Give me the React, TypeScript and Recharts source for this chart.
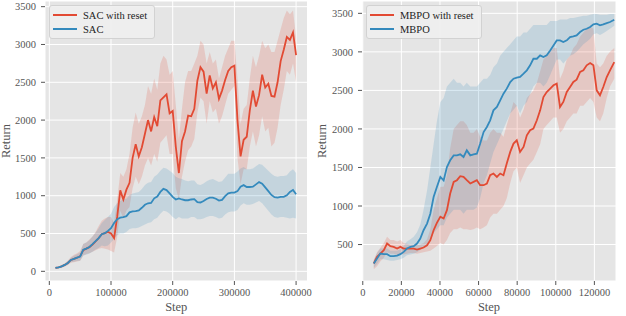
import { ComposedChart, Line, Area, XAxis, YAxis, CartesianGrid, Legend } from 'recharts'

const FONT = "'Liberation Serif', 'Times New Roman', serif"
const RED = '#E24A33'
const BLUE = '#348ABD'
const TICK_COLOR = '#555555'

// ---- left panel: SAC ----
const sacSteps = [
  10000, 15000, 20000, 25000, 30000, 35000, 40000, 45000, 50000, 55000,
  60000, 65000, 70000, 75000, 80000, 85000, 90000, 95000, 100000, 105000,
  110000, 115000, 120000, 125000, 130000, 135000, 140000, 145000, 150000, 155000,
  160000, 165000, 170000, 175000, 180000, 185000, 190000, 195000, 200000, 205000,
  210000, 215000, 220000, 225000, 230000, 235000, 240000, 245000, 250000, 255000,
  260000, 265000, 270000, 275000, 280000, 285000, 290000, 295000, 300000, 305000,
  310000, 315000, 320000, 325000, 330000, 335000, 340000, 345000, 350000, 355000,
  360000, 365000, 370000, 375000, 380000, 385000, 390000, 395000, 400000,
]
const sacResetMean = [
  45, 52, 65, 85, 110, 150, 165, 180, 200, 280,
  300, 320, 355, 395, 440, 490, 505, 520, 500, 440,
  720, 1070, 950, 1080, 1170, 1500, 1680, 1520, 1640, 1820,
  2000, 1850, 2040, 1920, 2260, 2300, 2340, 2090, 2120, 1650,
  1300, 1720, 1850, 2060, 2050, 2150, 2520, 2700, 2640, 2350,
  2590, 2420, 2500, 2280, 2390, 2530, 2650, 2700, 2720, 2000,
  1520, 1740, 1780, 2130, 2390, 2180, 2330, 2600, 2430, 2480,
  2320, 2310, 2500, 2780, 2930, 3100, 3060, 3160, 2860,
]
const sacResetLo = [
  35, 42, 50, 65, 85, 115, 120, 130, 140, 210,
  230, 240, 260, 280, 300, 310, 300, 290, 270, 250,
  450, 800, 700, 800, 850, 1100, 1250, 1150, 1250, 1400,
  1500, 1400, 1550, 1450, 1700, 1750, 1800, 1550, 1550, 1100,
  950, 1250, 1450, 1600, 1650, 1750, 2100, 2300, 2250, 1950,
  2250, 2100, 2150, 1950, 2050, 2200, 2350, 2400, 2450, 1500,
  1150, 1350, 1350, 1650, 1850, 1650, 1800, 2050, 1850, 1900,
  1650, 1700, 1900, 2200, 2400, 2650, 2600, 2750, 2500,
]
const sacResetHi = [
  55, 62, 80, 105, 140, 190, 220, 240, 270, 360,
  380, 420, 460, 520, 600, 670, 700, 720, 720, 640,
  950, 1300, 1250, 1350, 1550, 1900, 2100, 1950, 2050, 2200,
  2450, 2350, 2550, 2400, 2750, 2850, 2800, 2600, 2650, 2200,
  1750, 2150, 2500, 2650, 2650, 2750, 2850, 3050, 3000, 2750,
  2900, 2750, 2800, 2550, 2700, 2850, 2950, 3050, 3050, 2550,
  1950, 2150, 2200, 2550, 2850, 2700, 2850, 3050, 2950, 3000,
  2900, 2900, 3050, 3200, 3350, 3450, 3400, 3450, 3100,
]
const sacMean = [
  45, 52, 65, 85, 110, 150, 165, 180, 195, 285,
  300, 322, 360, 400, 440, 490, 505, 535, 570, 640,
  690, 710, 718, 730, 780, 792, 795, 805, 840, 880,
  900, 905, 965, 990, 1050, 1090, 1075, 1030, 985, 950,
  965, 950, 940, 940, 950, 955, 915, 910, 930, 957,
  975, 975, 960, 935, 945, 995, 1030, 1040, 1040, 1060,
  1120, 1140, 1115, 1115, 1120, 1150, 1180, 1160, 1110, 1060,
  1010, 980, 975, 985, 985, 1005, 1050, 1075, 1020,
]
const sacLo = [
  35, 42, 52, 68, 88, 120, 125, 135, 140, 210,
  220, 235, 260, 290, 310, 340, 330, 340, 380, 430,
  480, 500, 500, 520, 560, 570, 570, 580, 600, 620,
  640, 650, 690, 710, 760, 800, 790, 760, 720, 690,
  720, 700, 700, 700, 720, 720, 690, 690, 700, 720,
  730, 730, 720, 700, 710, 750, 780, 790, 790, 810,
  870, 900, 880, 880, 890, 910, 930, 900, 850, 800,
  750, 720, 710, 720, 720, 710, 700, 710, 700,
]
const sacHi = [
  55, 62, 80, 102, 132, 180, 205, 225, 250, 360,
  380, 410, 460, 510, 570, 640, 680, 720, 760, 850,
  900, 930, 950, 960, 1010, 1030, 1040, 1050, 1090, 1140,
  1170, 1180, 1250, 1280, 1330, 1370, 1360, 1330, 1300, 1250,
  1230, 1220, 1200, 1190, 1200, 1200, 1150, 1140, 1160, 1190,
  1210, 1220, 1200, 1180, 1190, 1240, 1290, 1290, 1290, 1320,
  1360, 1380, 1350, 1350, 1360, 1390, 1420, 1410, 1370, 1330,
  1290, 1260, 1250, 1260, 1260, 1270, 1320, 1350, 1300,
]
const sacNames = ['SAC with reset', 'SAC']
const sacXTicks = [0, 100000, 200000, 300000, 400000]
const sacYTicks = [0, 500, 1000, 1500, 2000, 2500, 3000, 3500]

// ---- right panel: MBPO ----
const mbpoSteps = [
  5700, 7400, 9100, 10900, 12600, 14300, 16000, 17800, 19500, 21200,
  22900, 24700, 26400, 28100, 29800, 31500, 33300, 35000, 36700, 38400,
  40200, 41900, 43600, 45300, 47100, 48800, 50500, 52200, 53900, 55700,
  57400, 59100, 60800, 62600, 64300, 66000, 67700, 69500, 71200, 72900,
  74600, 76400, 78100, 79800, 81500, 83300, 85000, 86700, 88400, 90200,
  91900, 93600, 95300, 97100, 98800, 100500, 102200, 103900, 105700, 107400,
  109100, 110800, 112600, 114300, 116000, 117800, 119500, 121200, 122900, 124600,
  126400, 128100, 130300,
]
const mbpoResetMean = [
  254, 340, 383, 426, 513, 478, 470, 448, 470, 448,
  448, 448, 448, 435, 448, 461, 491, 556, 686, 781,
  860, 838, 946, 1162, 1313, 1335, 1387, 1378, 1335, 1292,
  1313, 1335, 1270, 1270, 1292, 1400, 1422, 1378, 1422, 1400,
  1551, 1702, 1810, 1853, 1702, 1767, 1918, 1983, 2004, 2112,
  2241, 2414, 2479, 2523, 2566, 2587, 2285, 2350, 2479, 2544,
  2609, 2639, 2739, 2760, 2825, 2855, 2825, 2501, 2436, 2544,
  2674, 2760, 2868,
]
const mbpoResetLo = [
  180, 220, 280, 330, 400, 380, 380, 360, 380, 370,
  380, 390, 390, 380, 390, 400, 410, 420, 450, 480,
  520, 500, 560, 650, 700, 700, 720, 700, 700, 690,
  700, 720, 700, 720, 750, 850, 900, 900, 950, 1000,
  1100, 1300, 1450, 1500, 1300, 1400, 1500, 1550, 1600, 1700,
  1800, 2000, 2050, 2100, 2150, 2150, 1950, 2000, 2100, 2150,
  2200, 2200, 2300, 2300, 2350, 2400, 2350, 2150, 2100, 2200,
  2400, 2550, 2650,
]
const mbpoResetHi = [
  300, 400, 460, 520, 600, 560, 560, 540, 560, 520,
  510, 500, 500, 490, 500, 520, 570, 700, 950, 1100,
  1250, 1250, 1400, 1750, 2000, 2050, 2100, 2100, 2050, 1950,
  1950, 2000, 1900, 1850, 1850, 1950, 2000, 1950, 1950, 1900,
  2050, 2200, 2350, 2300, 2150, 2250, 2400, 2450, 2500, 2600,
  2750, 2900, 2950, 3000, 3050, 3050, 2650, 2750, 2900, 2950,
  3050, 3100, 3200, 3250, 3300, 3330, 3300, 2850, 2800, 2850,
  2950, 3000, 3050,
]
const mbpoMean = [
  254, 318, 383, 375, 375, 349, 349, 357, 375, 405,
  448, 470, 478, 513, 578, 686, 772, 900, 1117, 1247,
  1377, 1333, 1506, 1593, 1657, 1657, 1670, 1636, 1722, 1657,
  1670, 1679, 1809, 1960, 2025, 2112, 2241, 2285, 2371, 2458,
  2523, 2609, 2652, 2665, 2674, 2717, 2760, 2825, 2911, 2911,
  2955, 2933, 2955, 3019, 3084, 3149, 3149, 3127, 3149, 3192,
  3201, 3214, 3257, 3287, 3300, 3322, 3357, 3365, 3344, 3357,
  3374, 3387, 3417,
]
const mbpoLo = [
  200, 250, 310, 310, 300, 290, 290, 300, 310, 330,
  360, 370, 380, 400, 430, 470, 500, 560, 650, 700,
  750, 750, 850, 900, 950, 950, 950, 900, 950, 950,
  950, 980, 1100, 1300, 1400, 1550, 1700, 1800, 1900, 2000,
  2100, 2200, 2250, 2300, 2200, 2300, 2350, 2450, 2550, 2600,
  2600, 2550, 2600, 2700, 2800, 2900, 2900, 2850, 2900, 2950,
  2970, 3000, 3050, 3100, 3130, 3170, 3230, 3240, 3220, 3240,
  3270, 3300, 3340,
]
const mbpoHi = [
  300, 390, 450, 450, 450, 420, 420, 420, 440, 480,
  540, 570, 600, 660, 760, 950, 1200, 1500, 1800, 2100,
  2350, 2400, 2550, 2600, 2650, 2600, 2600, 2550, 2600, 2550,
  2550, 2550, 2600, 2650, 2650, 2700, 2800, 2850, 2950, 3000,
  3050, 3100, 3150, 3200, 3200, 3250, 3250, 3300, 3350, 3350,
  3350, 3350, 3350, 3400, 3400, 3400, 3420, 3420, 3420, 3440,
  3440, 3450, 3460, 3470, 3470, 3480, 3490, 3490, 3480, 3480,
  3480, 3490, 3490,
]
const mbpoNames = ['MBPO with reset', 'MBPO']
const mbpoXTicks = [0, 20000, 40000, 60000, 80000, 100000, 120000]
const mbpoYTicks = [500, 1000, 1500, 2000, 2500, 3000, 3500]

type Row = {
  step: number
  reset: number
  resetBand: [number, number]
  base: number
  baseBand: [number, number]
}

function buildRows(
  steps: number[],
  reset: number[],
  resetLo: number[],
  resetHi: number[],
  base: number[],
  baseLo: number[],
  baseHi: number[],
): Row[] {
  return steps.map((step, i) => ({
    step,
    reset: reset[i],
    resetBand: [resetLo[i], resetHi[i]],
    base: base[i],
    baseBand: [baseLo[i], baseHi[i]],
  }))
}

function LegendBox({ names }: { names: string[] }) {
  const colors = [RED, BLUE]
  return (
    <div
      style={{
        background: 'rgba(238,238,238,0.9)',
        border: '1px solid #d2d2d2',
        borderRadius: 3,
        padding: '2px 7px 2px 3px',
        fontFamily: FONT,
        fontSize: 10.5,
        color: '#222',
        whiteSpace: 'nowrap',
      }}
    >
      {names.map((name, i) => (
        <div key={name} style={{ display: 'flex', alignItems: 'center', height: 14 }}>
          <span style={{ display: 'inline-block', width: 24, height: 2, background: colors[i], marginRight: 6 }} />
          {name}
        </div>
      ))}
    </div>
  )
}

interface PanelProps {
  rows: Row[]
  names: string[]
  xDomain: [number, number]
  yDomain: [number, number]
  xTicks: number[]
  yTicks: number[]
  yAxisWidth: number
  marginRight: number
  legendLeft: number
  returnOffset: number
}

function Panel({ rows, names, xDomain, yDomain, xTicks, yTicks, yAxisWidth, marginRight, legendLeft, returnOffset }: PanelProps) {
  const tick = { fill: TICK_COLOR, fontSize: 10.5, fontFamily: FONT }
  const titleStyle = { fill: TICK_COLOR, fontSize: 12.5, fontFamily: FONT }
  return (
    <ComposedChart width={313} height={316} data={rows} margin={{ top: 1, right: marginRight, left: 0, bottom: 0 }}>
      <CartesianGrid fill="#E5E5E5" fillOpacity={1} stroke="#ffffff" strokeWidth={1} />
      <XAxis
        type="number"
        dataKey="step"
        domain={xDomain}
        ticks={xTicks}
        allowDataOverflow
        height={35}
        axisLine={false}
        tickLine={{ stroke: TICK_COLOR }}
        tickSize={4}
        tickMargin={4}
        tick={tick}
        interval={0}
        label={{ value: 'Step', position: 'insideBottom', offset: 5, style: titleStyle }}
      />
      <YAxis
        type="number"
        domain={yDomain}
        ticks={yTicks}
        allowDataOverflow
        width={yAxisWidth}
        axisLine={false}
        tickLine={{ stroke: TICK_COLOR }}
        tickSize={4}
        tickMargin={5}
        tick={tick}
        interval={0}
        label={{
          value: 'Return',
          angle: -90,
          position: 'insideLeft',
          offset: returnOffset,
          style: { ...titleStyle, textAnchor: 'middle' },
        }}
      />
      <Area type="linear" dataKey="resetBand" stroke="none" fill={RED} fillOpacity={0.18} isAnimationActive={false} activeDot={false} />
      <Area type="linear" dataKey="baseBand" stroke="none" fill={BLUE} fillOpacity={0.18} isAnimationActive={false} activeDot={false} />
      <Line type="linear" dataKey="reset" stroke={RED} strokeWidth={1.8} dot={false} activeDot={false} isAnimationActive={false} />
      <Line type="linear" dataKey="base" stroke={BLUE} strokeWidth={1.8} dot={false} activeDot={false} isAnimationActive={false} />
      <Legend
        layout="vertical"
        align="center"
        verticalAlign="middle"
        wrapperStyle={{ left: legendLeft, top: 5, width: 'auto', height: 'auto' }}
        content={() => <LegendBox names={names} />}
      />
    </ComposedChart>
  )
}

export default function App() {
  const sacRows = buildRows(sacSteps, sacResetMean, sacResetLo, sacResetHi, sacMean, sacLo, sacHi)
  const mbpoRows = buildRows(mbpoSteps, mbpoResetMean, mbpoResetLo, mbpoResetHi, mbpoMean, mbpoLo, mbpoHi)
  return (
    <div style={{ position: 'absolute', left: 0, top: 0, width: 626, height: 316, background: '#ffffff' }}>
      <div style={{ position: 'absolute', left: 0, top: 0 }}>
        <Panel
          rows={sacRows}
          names={sacNames}
          xDomain={[-7000, 418500]}
          yDomain={[-128, 3575]}
          xTicks={sacXTicks}
          yTicks={sacYTicks}
          yAxisWidth={45}
          marginRight={5.5}
          legendLeft={49}
          returnOffset={6}
        />
      </div>
      <div style={{ position: 'absolute', left: 313, top: 0 }}>
        <Panel
          rows={mbpoRows}
          names={mbpoNames}
          xDomain={[-400, 131200]}
          yDomain={[27, 3660]}
          xTicks={mbpoXTicks}
          yTicks={mbpoYTicks}
          yAxisWidth={49}
          marginRight={10}
          legendLeft={53}
          returnOffset={9}
        />
      </div>
    </div>
  )
}
